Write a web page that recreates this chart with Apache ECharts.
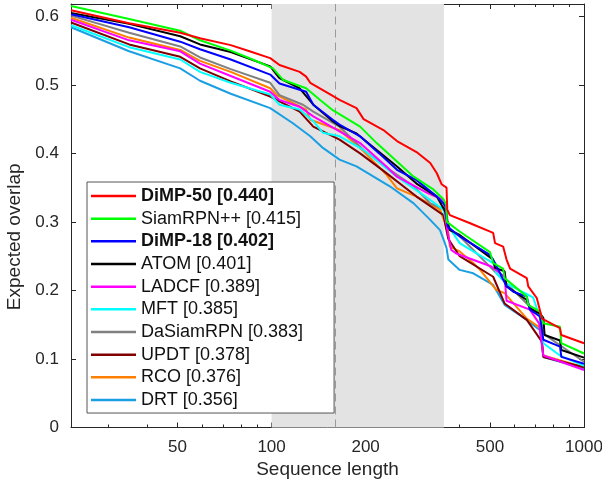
<!DOCTYPE html>
<html><head><meta charset="utf-8">
<script src="https://cdn.jsdelivr.net/npm/echarts@6/dist/echarts.min.js"></script>
<style>html,body{margin:0;padding:0;background:#fff}#c{width:602px;height:481px}</style>
</head><body><div id="c"></div>
<script>
// ---- data ----
const trackers = ['DiMP-50','SiamRPN++','DiMP-18','ATOM','LADCF','MFT','DaSiamRPN','UPDT','RCO','DRT'];
const eaoScores = [0.440,0.415,0.402,0.401,0.389,0.385,0.383,0.378,0.376,0.356];

const dimp50 = [[22.8,0.609],[35,0.590],[51,0.576],[59,0.568],[74,0.558],[85,0.549],[99,0.539],[106,0.529],[123,0.519],[129,0.512],[133,0.503],[154,0.486],[165,0.478],[187,0.466],[197,0.450],[228,0.434],[252,0.418],[291,0.402],[322,0.386],[338,0.371],[350,0.355],[363,0.350],[365,0.318],[372,0.310],[432,0.298],[512,0.284],[519,0.269],[551,0.264],[565,0.245],[580,0.232],[656,0.218],[663,0.206],[706,0.189],[734,0.159],[837,0.145],[846,0.135],[1000,0.123]];
const siamrpnpp = [[22.8,0.615],[35,0.596],[51,0.579],[59,0.565],[74,0.550],[87,0.537],[101,0.524],[109,0.507],[129,0.495],[143,0.478],[157,0.463],[192,0.439],[217,0.415],[252,0.388],[285,0.366],[330,0.347],[355,0.333],[362,0.325],[364,0.300],[400,0.286],[500,0.256],[512,0.240],[551,0.232],[557,0.218],[656,0.191],[663,0.179],[723,0.169],[741,0.152],[838,0.147],[846,0.123],[1000,0.108]];
const dimp18 = [[22.8,0.603],[35,0.584],[51,0.563],[59,0.552],[74,0.537],[99,0.515],[106,0.502],[129,0.490],[136,0.471],[157,0.449],[165,0.442],[192,0.425],[221,0.400],[252,0.376],[291,0.361],[338,0.337],[360,0.324],[366,0.293],[400,0.279],[500,0.252],[519,0.240],[565,0.206],[594,0.198],[656,0.191],[671,0.172],[723,0.162],[741,0.128],[838,0.118],[846,0.103],[1000,0.093]];
const atom = [[22.8,0.605],[35,0.589],[51,0.571],[59,0.559],[74,0.548],[99,0.527],[106,0.510],[123,0.495],[136,0.471],[157,0.447],[165,0.440],[187,0.429],[217,0.405],[252,0.381],[291,0.356],[338,0.337],[360,0.315],[363,0.305],[372,0.288],[400,0.281],[512,0.245],[519,0.233],[557,0.228],[565,0.206],[656,0.186],[671,0.174],[723,0.166],[741,0.160],[748,0.135],[838,0.127],[846,0.113],[1000,0.102]];
const ladcf = [[22.8,0.595],[35,0.565],[51,0.549],[59,0.531],[74,0.513],[99,0.490],[106,0.478],[123,0.468],[136,0.454],[165,0.432],[192,0.415],[233,0.381],[252,0.366],[316,0.342],[355,0.332],[362,0.300],[368,0.280],[376,0.259],[390,0.254],[505,0.235],[557,0.220],[565,0.185],[671,0.172],[718,0.152],[734,0.120],[741,0.105],[1000,0.084]];
const mft = [[22.8,0.587],[35,0.555],[51,0.537],[59,0.519],[74,0.503],[99,0.486],[106,0.471],[123,0.464],[136,0.447],[146,0.430],[165,0.425],[197,0.405],[252,0.366],[322,0.332],[355,0.318],[363,0.298],[400,0.269],[442,0.257],[512,0.240],[524,0.225],[565,0.210],[687,0.190],[723,0.160],[741,0.123],[838,0.105],[1000,0.090]];
const dasiamrpn = [[22.8,0.601],[35,0.576],[51,0.556],[59,0.540],[74,0.523],[99,0.503],[106,0.485],[126,0.471],[136,0.461],[165,0.439],[197,0.405],[239,0.376],[285,0.352],[322,0.327],[363,0.317],[368,0.290],[400,0.279],[512,0.230],[565,0.210],[656,0.181],[723,0.162],[741,0.137],[838,0.120],[1000,0.096]];
const updt = [[22.8,0.591],[35,0.559],[51,0.541],[59,0.524],[74,0.505],[99,0.483],[106,0.476],[123,0.461],[136,0.439],[165,0.420],[192,0.400],[226,0.376],[291,0.337],[355,0.310],[362,0.290],[368,0.275],[400,0.250],[512,0.220],[557,0.181],[656,0.157],[734,0.125],[741,0.103],[1000,0.088]];
const rco = [[22.8,0.598],[35,0.569],[51,0.551],[59,0.535],[74,0.519],[99,0.495],[104,0.485],[129,0.464],[133,0.449],[165,0.434],[197,0.403],[233,0.369],[252,0.349],[291,0.337],[346,0.318],[358,0.300],[368,0.284],[372,0.264],[400,0.257],[442,0.240],[465,0.230],[524,0.201],[557,0.196],[656,0.159],[725,0.145],[741,0.105],[1000,0.088]];
const drt = [[22.8,0.584],[35,0.549],[51,0.524],[59,0.506],[74,0.487],[99,0.466],[117,0.444],[133,0.425],[146,0.408],[165,0.391],[187,0.381],[239,0.352],[285,0.327],[322,0.303],[346,0.288],[358,0.270],[363,0.262],[368,0.245],[400,0.230],[442,0.225],[512,0.208],[557,0.179],[656,0.157],[723,0.142],[741,0.103],[1000,0.086]];

const xLabelValues = [50,100,200,500,1000];
const xMajorTicks = [50,100,200,500,1000];
const xMinorTicks = [30,40,60,70,80,90,300,400,600,700,800,900];
const yTickValues = [0,0.1,0.2,0.3,0.4,0.5,0.6];
const xRange = [22.8,1000];
const yRange = [0,0.618];
const shortTermRange = [100,356];
const peakLength = 160;

// ---- styles ----
const curves = [dimp50,siamrpnpp,dimp18,atom,ladcf,mft,dasiamrpn,updt,rco,drt];
const colors = ['#ff0000','#00ff00','#0000ff','#000000','#ff00ff','#00ffff','#808080','#800000','#ff8000','#1a9fe3'];
const boldTrackers = ['DiMP-50','DiMP-18'];
const FONT = '"Liberation Sans", Arial, Helvetica, sans-serif';
const AX = '#262626';

const names = trackers.map((t,i)=>t+' ['+eaoScores[i].toFixed(3)+']');
const boldNames = names.filter((n,i)=>boldTrackers.includes(trackers[i]));

const lg = v => Math.log10(v);
const series = [];
for (let i = curves.length-1; i >= 0; i--) {
  const s = {
    type:'line', name:names[i], data:curves[i], xAxisIndex:0, yAxisIndex:0,
    symbol:'none', showSymbol:false, silent:true, z:2,
    lineStyle:{color:colors[i], width:2}, itemStyle:{color:colors[i]}
  };
  if (i === curves.length-1) {
    s.markArea = {silent:true, z:1, itemStyle:{color:'#e3e3e3'},
      data:[[{xAxis:shortTermRange[0]},{xAxis:shortTermRange[1]}]]};
    s.markLine = {silent:true, z:1, symbol:'none', label:{show:false},
      lineStyle:{color:'#9a9a9a', type:[8,5], width:1},
      data:[{xAxis:peakLength}]};
  }
  series.push(s);
}

function tickAxis(pos, ticks, len, extra) {
  return Object.assign({
    type:'value', min:lg(xRange[0]), max:lg(xRange[1]), position:pos,
    axisLine:{show:false, onZero:false},
    axisTick:{show:true, inside:true, length:len, customValues:ticks.map(lg), lineStyle:{color:AX}},
    axisLabel:{show:false}, splitLine:{show:false}
  }, extra || {});
}

const chart = echarts.init(document.getElementById('c'), null, {renderer:'canvas'});
chart.setOption({
  animation:false,
  textStyle:{fontFamily:FONT},
  grid:{left:71, right:18, top:4, bottom:53.5, containLabel:false, outerBoundsMode:'none'},
  xAxis:[
    {type:'log', logBase:10, min:xRange[0], max:xRange[1], position:'bottom',
     axisLine:{show:true, onZero:false, lineStyle:{color:AX, width:1}},
     axisTick:{show:false}, axisLabel:{show:false}, splitLine:{show:false}, minorTick:{show:false}},
    tickAxis('bottom', xMajorTicks, 5, {
      axisLabel:{show:true, customValues:xLabelValues.map(lg), formatter:v=>String(Math.round(Math.pow(10,v))),
        fontSize:17, color:AX, margin:11, fontFamily:FONT},
      name:'Sequence length', nameLocation:'middle', nameGap:33,
      nameTextStyle:{fontSize:19, color:AX, fontFamily:FONT}}),
    tickAxis('bottom', xMinorTicks, 3),
    tickAxis('top', xMajorTicks, 5, {axisLine:{show:true, onZero:false, lineStyle:{color:AX, width:1}}}),
    tickAxis('top', xMinorTicks, 3)
  ],
  yAxis:[
    {type:'value', min:yRange[0], max:yRange[1], position:'left',
     axisLine:{show:true, onZero:false, lineStyle:{color:AX, width:1}},
     axisTick:{show:true, inside:true, length:5, customValues:yTickValues, lineStyle:{color:AX}},
     axisLabel:{customValues:yTickValues, formatter:v=>v===0?'0':v.toFixed(1), fontSize:17, color:AX, margin:12, fontFamily:FONT},
     splitLine:{show:false},
     name:'Expected overlap', nameLocation:'middle', nameGap:44, nameRotate:90,
     nameTextStyle:{fontSize:19, color:AX, fontFamily:FONT, padding:[0,42,0,0]}},
    {type:'value', min:yRange[0], max:yRange[1], position:'right',
     axisLine:{show:true, onZero:false, lineStyle:{color:AX, width:1}},
     axisTick:{show:true, inside:true, length:5, customValues:yTickValues, lineStyle:{color:AX}},
     axisLabel:{show:false}, splitLine:{show:false}}
  ],
  legend:{
    data:names, orient:'vertical', left:87, top:182, padding:[4,31,3,4],
    icon:'rect', itemWidth:45, itemHeight:2.5, itemGap:2.67, selectedMode:false,
    backgroundColor:'#ffffff', borderColor:'#555555', borderWidth:1, borderRadius:0,
    textStyle:{fontSize:18, lineHeight:20, color:'#111', fontFamily:FONT,
      rich:{b:{fontWeight:'bold', fontSize:18, lineHeight:20, color:'#111', fontFamily:FONT}}},
    formatter:n=>boldNames.includes(n)?'{b|'+n+'}':n
  },
  series:series
});
</script>
</body></html>
